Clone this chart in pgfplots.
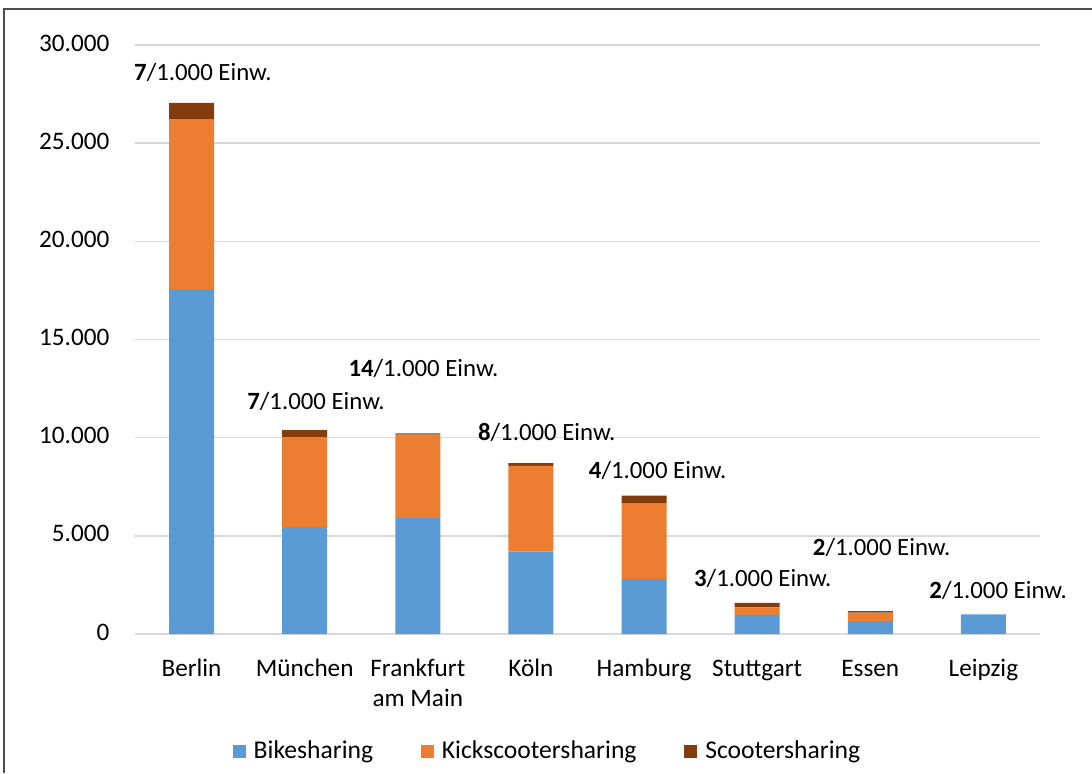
\documentclass[border=0pt]{standalone}
\usepackage{pgfplots}
\pgfplotsset{compat=1.18}
\usepackage{pgfplotstable}
\usepackage{fontspec}
\setmainfont{Carlito}
\definecolor{cblue}{HTML}{5B9BD5}
\definecolor{corange}{HTML}{ED7D31}
\definecolor{cbrown}{HTML}{843C0C}
\definecolor{cgrid}{HTML}{D9D9D9}
\pgfplotstableread{
x bike kick scooter
0 17570 8660 820
1 5450 4580 360
2 5920 4230 70
3 4190 4370 150
4 2800 3870 380
5 980 380 220
6 660 430 80
7 1000 0 0
}\data
\begin{document}
\fontsize{12.4}{15}\selectfont
\begin{tikzpicture}
\useasboundingbox (0,0) rectangle (546pt,386.5pt);
\draw[line width=0.8pt, black!70] (2pt,0) -- (2pt,382pt) -- (546pt,382pt);
\begin{axis}[
  at={(67.5pt,69.5pt)}, anchor=south west,
  scale only axis, width=452.5pt, height=294.5pt,
  ybar stacked, bar width=22.5pt,
  xmin=-0.5, xmax=7.5, ymin=0, ymax=30000,
  axis line style={draw=none},
  major tick length=0pt,
  ymajorgrids, grid style={cgrid, line width=0.75pt},
  ytick={0,5000,10000,15000,20000,25000,30000},
  scaled y ticks=false,
  /pgf/number format/1000 sep={.},
  /pgf/number format/assume math mode=true,
  yticklabel style={xshift=-8.5pt, font=\fontsize{12.6}{15}\selectfont},
  xtick=data,
  xticklabels={Berlin, München, {Frankfurt\\am Main}, Köln, Hamburg, Stuttgart, Essen, Leipzig},
  xticklabel style={align=center, yshift=-6.5pt, anchor=north, font=\fontsize{12.6}{15}\selectfont},
  typeset ticklabels with strut,
  clip=false,
  legend columns=3,
  legend style={at={(0.457,-0.199)}, anchor=center, draw=none, fill=none,
    font=\fontsize{12.8}{15}\selectfont,
    /tikz/every even column/.append style={column sep=22pt}},
  legend image code/.code={\fill[#1] (0pt,-3.2pt) rectangle (6.4pt,3.2pt);},
]
\addplot[fill=cblue, draw=none] table[x=x, y=bike] {\data};
\addplot[fill=corange, draw=none] table[x=x, y=kick] {\data};
\addplot[fill=cbrown, draw=none] table[x=x, y=scooter] {\data};
\legend{\hspace{2pt}Bikesharing, \hspace{2pt}Kickscootersharing, \hspace{2pt}Scootersharing}
\node at (axis cs:0.1,28580) {\textbf{7}/1.000 Einw.};
\node at (axis cs:1.1,11870) {\textbf{7}/1.000 Einw.};
\node at (axis cs:2.05,13550) {\textbf{14}/1.000 Einw.};
\node at (axis cs:3.14,10290) {\textbf{8}/1.000 Einw.};
\node at (axis cs:4.12,8350) {\textbf{4}/1.000 Einw.};
\node at (axis cs:5.05,2850) {\textbf{3}/1.000 Einw.};
\node at (axis cs:6.1,4430) {\textbf{2}/1.000 Einw.};
\node at (axis cs:7.13,2240) {\textbf{2}/1.000 Einw.};
\end{axis}
\end{tikzpicture}
\end{document}
